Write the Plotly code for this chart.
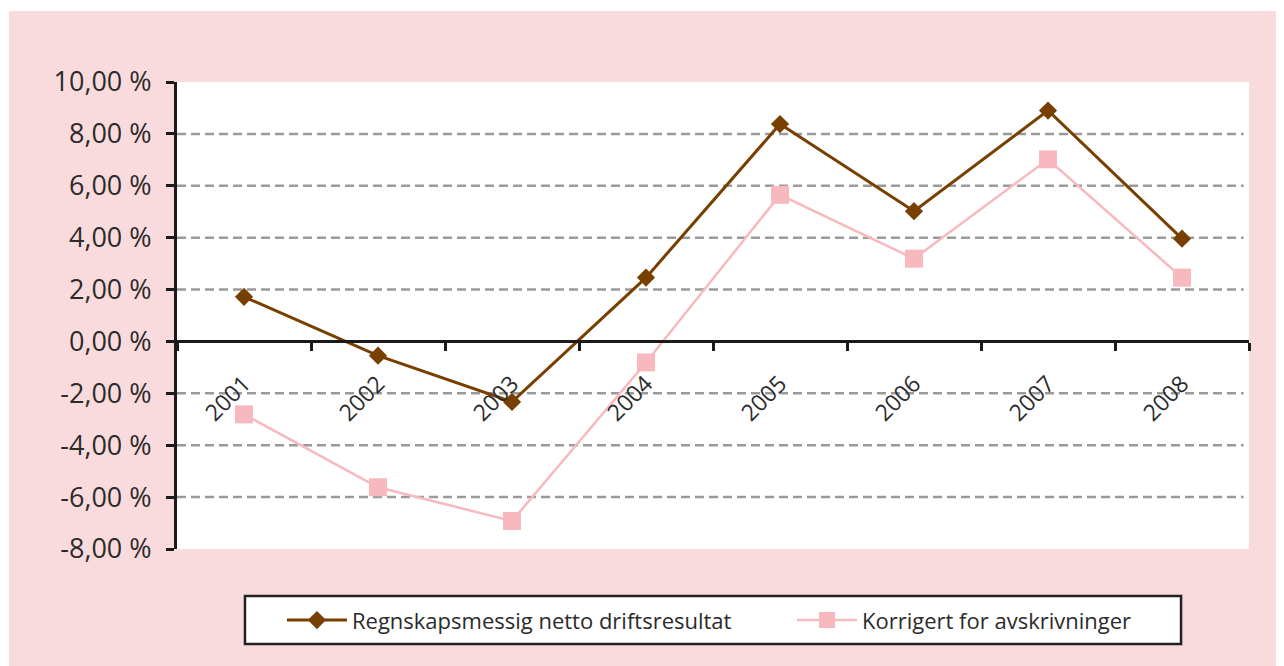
import plotly.graph_objects as go

years = ["2001", "2002", "2003", "2004", "2005", "2006", "2007", "2008"]
netto = [1.72, -0.55, -2.33, 2.46, 8.38, 5.02, 8.9, 3.96]
korrigert = [-2.81, -5.62, -6.92, -0.81, 5.65, 3.19, 7.02, 2.46]
name_netto = "Regnskapsmessig netto driftsresultat"
name_korr = "Korrigert for avskrivninger"
y_ticks = [10, 8, 6, 4, 2, 0, -2, -4, -6, -8]
y_ticktext = ["10,00 %", "8,00 %", "6,00 %", "4,00 %", "2,00 %", "0,00 %",
              "-2,00 %", "-4,00 %", "-6,00 %", "-8,00 %"]
grid_vals = [8, 6, 4, 2, -2, -4, -6]

PINK_BG = "#FADBDD"
FONT = "Open Sans"
TXT = "#2b2b2b"

fig = go.Figure()
fig.add_trace(go.Scatter(
    x=years, y=netto, name=name_netto, mode="lines+markers",
    line=dict(color="#773F00", width=3),
    marker=dict(symbol="diamond", size=14, color="#773F00"),
    legend="legend",
))
fig.add_trace(go.Scatter(
    x=years, y=korrigert, name=name_korr, mode="lines+markers",
    line=dict(color="#F7B9BE", width=2.5),
    marker=dict(symbol="square", size=18, color="#F7B9BE"),
    legend="legend2",
))

shapes = []
for g in grid_vals:
    shapes.append(dict(type="line", xref="paper", x0=0, x1=0.995, yref="y", y0=g, y1=g,
                       line=dict(color="#9a9a9a", width=2.5, dash="9px,5px"), layer="below"))
# thin white strips at top and left edges of the page
shapes.append(dict(type="rect", xref="paper", yref="paper", x0=-0.2, x1=1.1,
                   y0=1.152, y1=1.3, fillcolor="white", line=dict(width=0), layer="below"))
shapes.append(dict(type="rect", xref="paper", yref="paper", x0=-0.2, x1=-0.1567,
                   y0=-0.3, y1=1.3, fillcolor="white", line=dict(width=0), layer="below"))
# legend frame
shapes.append(dict(type="rect", xref="paper", yref="paper", x0=0.0634, x1=0.9366,
                   y0=-0.2034, y1=-0.1006, fillcolor="white",
                   line=dict(color="#222", width=2.5), layer="below"))

leg_common = dict(orientation="h", xanchor="left", y=-0.1077, yanchor="top",
                  bgcolor="rgba(0,0,0,0)", borderwidth=0,
                  font=dict(family=FONT, size=22, color=TXT), itemwidth=60)

ymin, ymax = -8, 10
fig.update_layout(
    width=1276, height=658,
    margin=dict(l=169, r=35, t=74, b=117),
    paper_bgcolor=PINK_BG, plot_bgcolor="white",
    font=dict(family=FONT, color=TXT, size=24),
    shapes=shapes,
    showlegend=True,
    legend=dict(x=0.0979, **leg_common),
    legend2=dict(x=0.5737, **leg_common),
    xaxis=dict(type="category", range=[-0.5, 7.5], anchor="free",
               position=(0 - ymin) / (ymax - ymin),
               showline=True, linecolor="#1a1a1a", linewidth=2.5,
               ticks="outside", tickson="boundaries", ticklen=8, tickwidth=2.5,
               tickcolor="#1a1a1a", tickangle=-45, showgrid=False, zeroline=False,
               tickfont=dict(family=FONT, size=23, color=TXT),
               ticklabelstandoff=18),
    yaxis=dict(range=[ymin, ymax], tickvals=y_ticks, ticktext=y_ticktext,
               showline=True, linecolor="#1a1a1a", linewidth=3,
               ticks="outside", ticklen=8, tickwidth=2.5, tickcolor="#1a1a1a",
               showgrid=False, zeroline=False, ticklabelstandoff=9,
               tickfont=dict(family=FONT, size=27, color=TXT)),
)
fig.write_html("out.html")
